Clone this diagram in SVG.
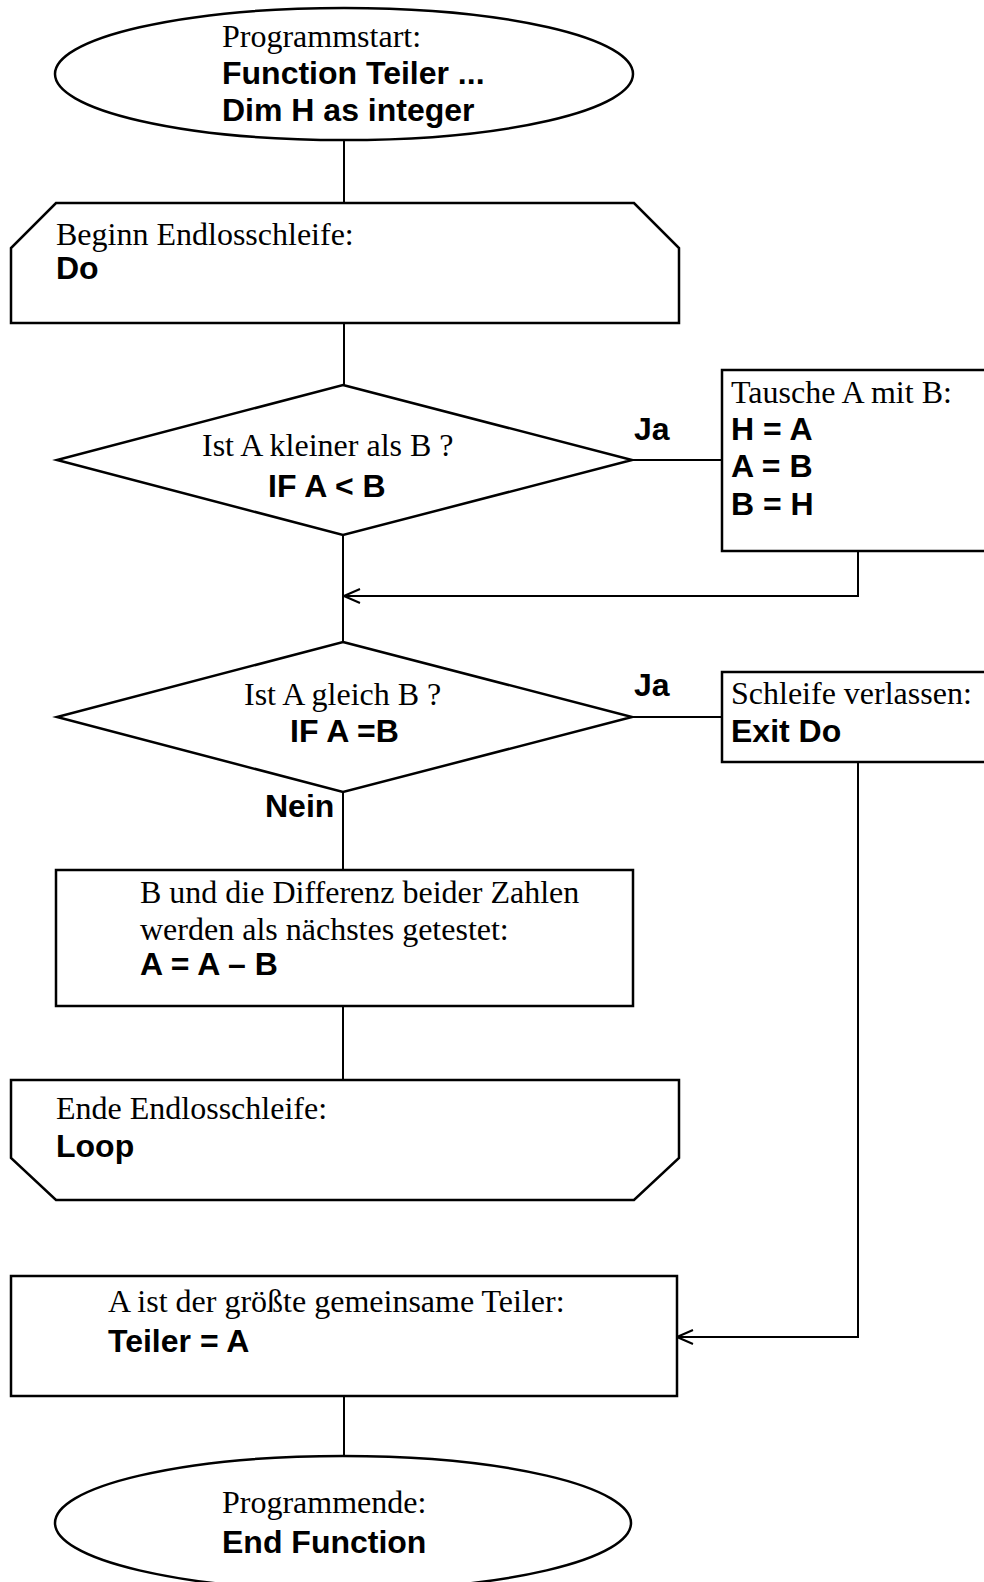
<svg xmlns="http://www.w3.org/2000/svg" width="984" height="1582" viewBox="0 0 984 1582">
<style>
.shape{fill:#fff;stroke:#000;stroke-width:2.5}
.conn{fill:none;stroke:#000;stroke-width:2}
.t{font-family:"Liberation Serif","Times New Roman",serif;font-size:32px;fill:#000}
.b{font-family:"Liberation Sans",Arial,sans-serif;font-size:32px;font-weight:bold;fill:#000}
</style>
<defs>
<marker id="arr" markerUnits="userSpaceOnUse" viewBox="0 0 18 16" refX="17" refY="8" markerWidth="18" markerHeight="16" orient="auto">
<path d="M1,1 L17,8 L1,15" fill="none" stroke="#000" stroke-width="2"/>
</marker>
</defs>
<rect width="984" height="1582" fill="#fff"/>
<g id="connectors">
<line class="conn" x1="344" y1="141" x2="344" y2="203"/>
<line class="conn" x1="344" y1="323" x2="344" y2="385"/>
<line class="conn" x1="632" y1="460" x2="722" y2="460"/>
<line class="conn" x1="343" y1="535" x2="343" y2="642"/>
<path class="conn" d="M858,551 V596 H344" marker-end="url(#arr)"/>
<line class="conn" x1="632" y1="717" x2="722" y2="717"/>
<line class="conn" x1="343" y1="792" x2="343" y2="870"/>
<line class="conn" x1="343" y1="1003" x2="343" y2="1080"/>
<path class="conn" d="M858,762 V1337 H677" marker-end="url(#arr)"/>
<line class="conn" x1="344" y1="1397" x2="344" y2="1457"/>
<text class="b" x="634" y="440">Ja</text>
<text class="b" x="634" y="696">Ja</text>
<text class="b" x="265" y="817">Nein</text>
</g>
<g id="start">
<ellipse class="shape" cx="344" cy="74" rx="289" ry="66"/>
<text class="t" x="222" y="47">Programmstart:</text>
<text class="b" x="222" y="84">Function Teiler ...</text>
<text class="b" x="222" y="121">Dim H as integer</text>
</g>
<g id="do">
<path class="shape" d="M56,203 H634 L679,248 V323 H11 V248 Z"/>
<text class="t" x="56" y="245">Beginn Endlosschleife:</text>
<text class="b" x="56" y="279">Do</text>
</g>
<g id="if1">
<path class="shape" d="M343,385 L632,460 L343,535 L57,460 Z"/>
<text class="t" x="202" y="456">Ist A kleiner als B ?</text>
<text class="b" x="268" y="497">IF A &lt; B</text>
</g>
<g id="swap">
<rect class="shape" x="722" y="370" width="280" height="181"/>
<text class="t" x="731" y="403">Tausche A mit B:</text>
<text class="b" x="731" y="440">H = A</text>
<text class="b" x="731" y="477">A = B</text>
<text class="b" x="731" y="515">B = H</text>
</g>
<g id="if2">
<path class="shape" d="M343,642 L632,717 L343,792 L57,717 Z"/>
<text class="t" x="244" y="705">Ist A gleich B ?</text>
<text class="b" x="290" y="742">IF A =B</text>
</g>
<g id="exit">
<rect class="shape" x="722" y="672" width="280" height="90"/>
<text class="t" x="731" y="704">Schleife verlassen:</text>
<text class="b" x="731" y="742">Exit Do</text>
</g>
<g id="diff">
<rect class="shape" x="56" y="870" width="577" height="136"/>
<text class="t" x="140" y="903">B und die Differenz beider Zahlen</text>
<text class="t" x="140" y="940">werden als nächstes getestet:</text>
<text class="b" x="140" y="975">A = A – B</text>
</g>
<g id="loop">
<path class="shape" d="M11,1080 H679 V1158 L634,1200 H56 L11,1158 Z"/>
<text class="t" x="56" y="1119">Ende Endlosschleife:</text>
<text class="b" x="56" y="1157">Loop</text>
</g>
<g id="result">
<rect class="shape" x="11" y="1276" width="666" height="120"/>
<text class="t" x="108" y="1312">A ist der größte gemeinsame Teiler:</text>
<text class="b" x="108" y="1352">Teiler = A</text>
</g>
<g id="end">
<ellipse class="shape" cx="343" cy="1523" rx="288" ry="67"/>
<text class="t" x="222" y="1513">Programmende:</text>
<text class="b" x="222" y="1553">End Function</text>
</g>
</svg>
